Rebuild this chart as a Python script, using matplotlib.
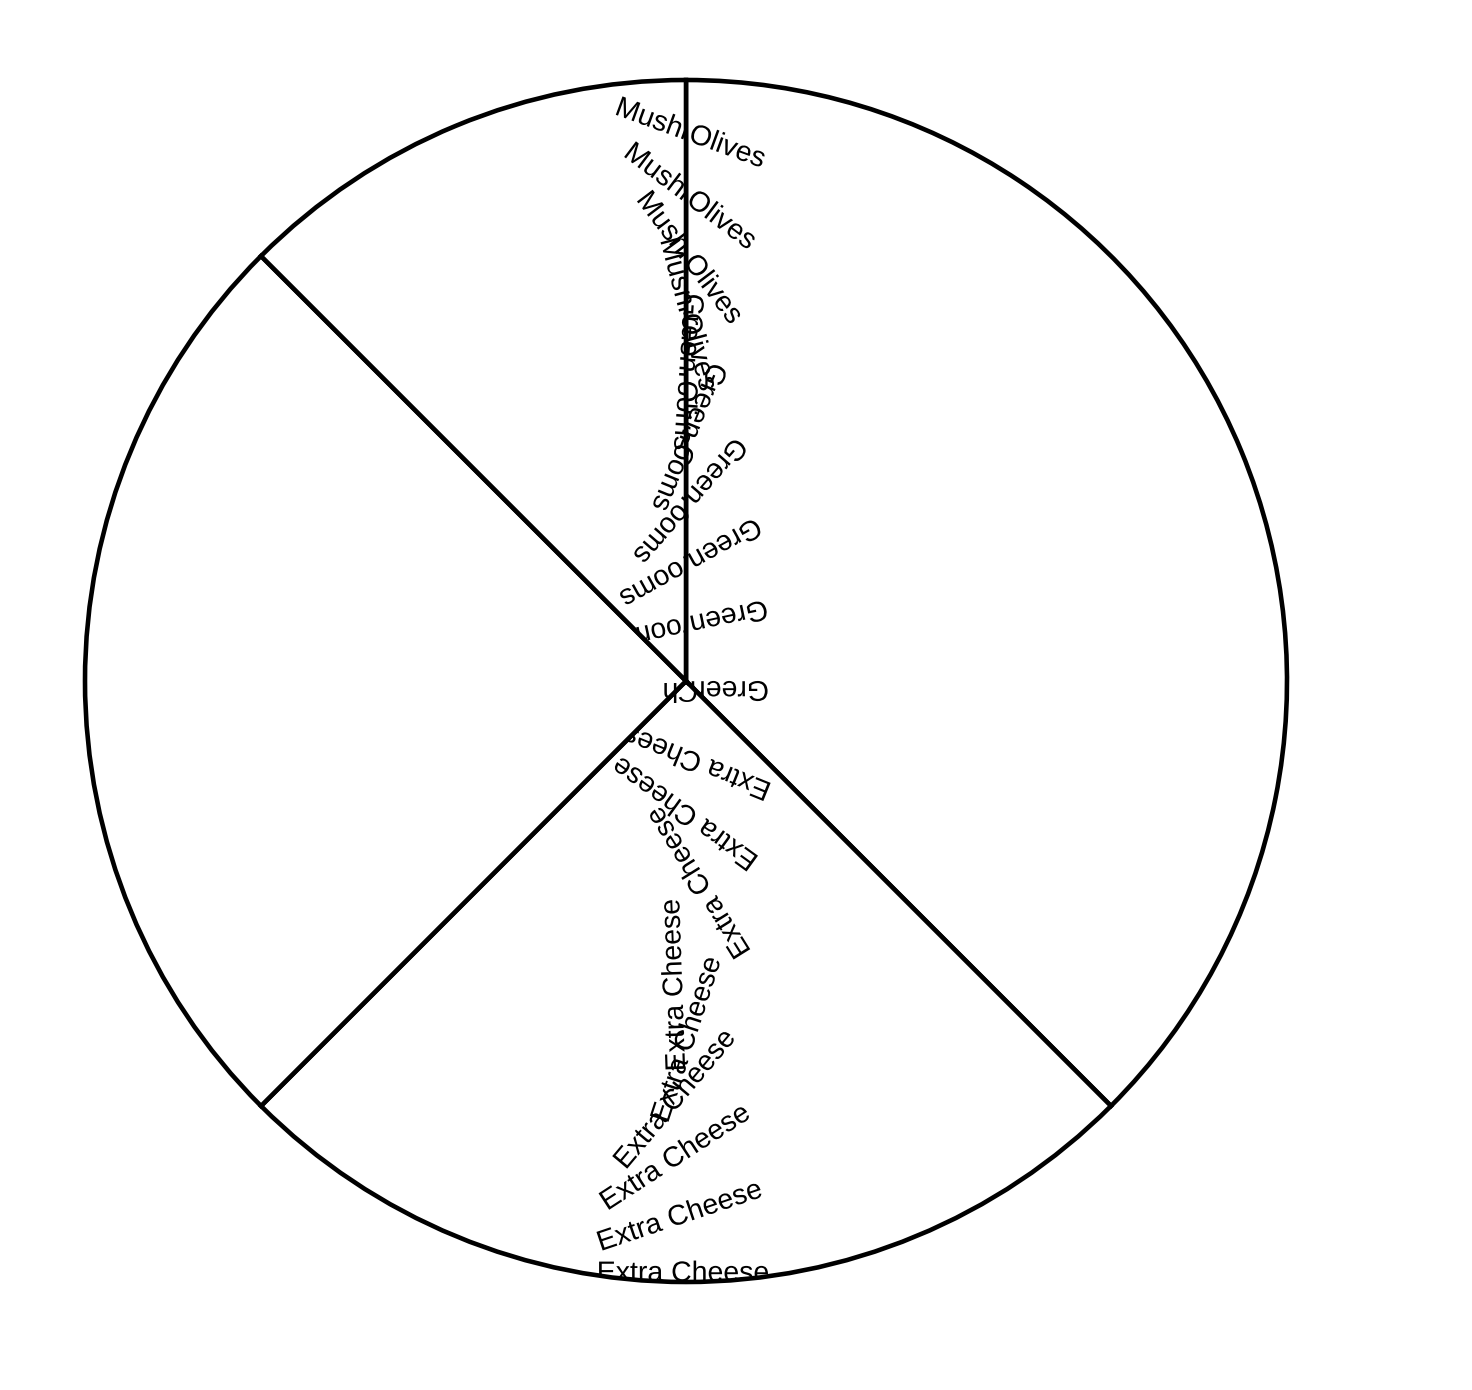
## Pie chart with spiralling, wedge-clipped labels ##

import matplotlib
matplotlib.use("Agg")
from matplotlib import pyplot as plt
import matplotlib.patheffects as pe

plt.rcParams['font.family'] = ['Liberation Sans', 'DejaVu Sans']

# Slice data (clockwise from 12 o'clock)
toppings = ["Green Olives", "Extra Cheese", "Ch", "Mushrooms"]
counts = [3, 2, 2, 1]

# Label rows running up from the centre (shared by the right and upper-left slices)
up_r = [-0.012, 0.095, 0.196, 0.296, 0.40, 0.507, 0.617, 0.709, 0.809, 0.912]
up_rot = [180, 192, 209, 229, 248, 266, 285, 307, 323, 340]

# Label rows running down from the centre (bottom slice)
down_x = [0.007, 0.0, 0.023, -0.018, 0.003, -0.017, -0.017, -0.010, -0.005]
down_r = [-0.128, -0.218, -0.334, -0.506, -0.597, -0.697, -0.794, -0.892, -0.987]
down_rot = [158, 144, 122, 92, 72, 50, 33, 18.6, 0]

fig = plt.figure(figsize=(14.72, 13.9), dpi=100)
ax = fig.add_axes([0, 0, 1, 1])

wedges, _ = ax.pie(counts, startangle=90, counterclock=False, radius=1,
                   wedgeprops=dict(facecolor='white', edgecolor='black', linewidth=3.3))

ax.set_xlim(-686 / 601, 786 / 601)
ax.set_ylim(-709 / 601, 681 / 601)
ax.set_aspect('equal')
ax.axis('off')

# path effects make the text go through draw_path, so the clip path is honoured
txt = dict(fontsize=20.5, ha='center', va='center', rotation_mode='anchor', color='black',
           path_effects=[pe.Normal()], zorder=3, clip_on=True)

# upper rows: each slice shows only its own part of the label
for r, rot in zip(up_r, up_rot):
    for i in (0, 3):
        t = ax.text(0, r, toppings[i], rotation=rot, **txt)
        t.set_clip_path(wedges[i])

# lower rows
for x, r, rot in zip(down_x, down_r, down_rot):
    t = ax.text(x, r, toppings[1], rotation=rot, **txt)
    t.set_clip_path(wedges[1])

# left slice label fragment at the centre
ax.text(0.016, -0.012, toppings[2], rotation=180, fontsize=20.5, ha='left', va='center',
        rotation_mode='anchor', color='black')

fig.savefig("out.png", dpi=100, facecolor='white')
